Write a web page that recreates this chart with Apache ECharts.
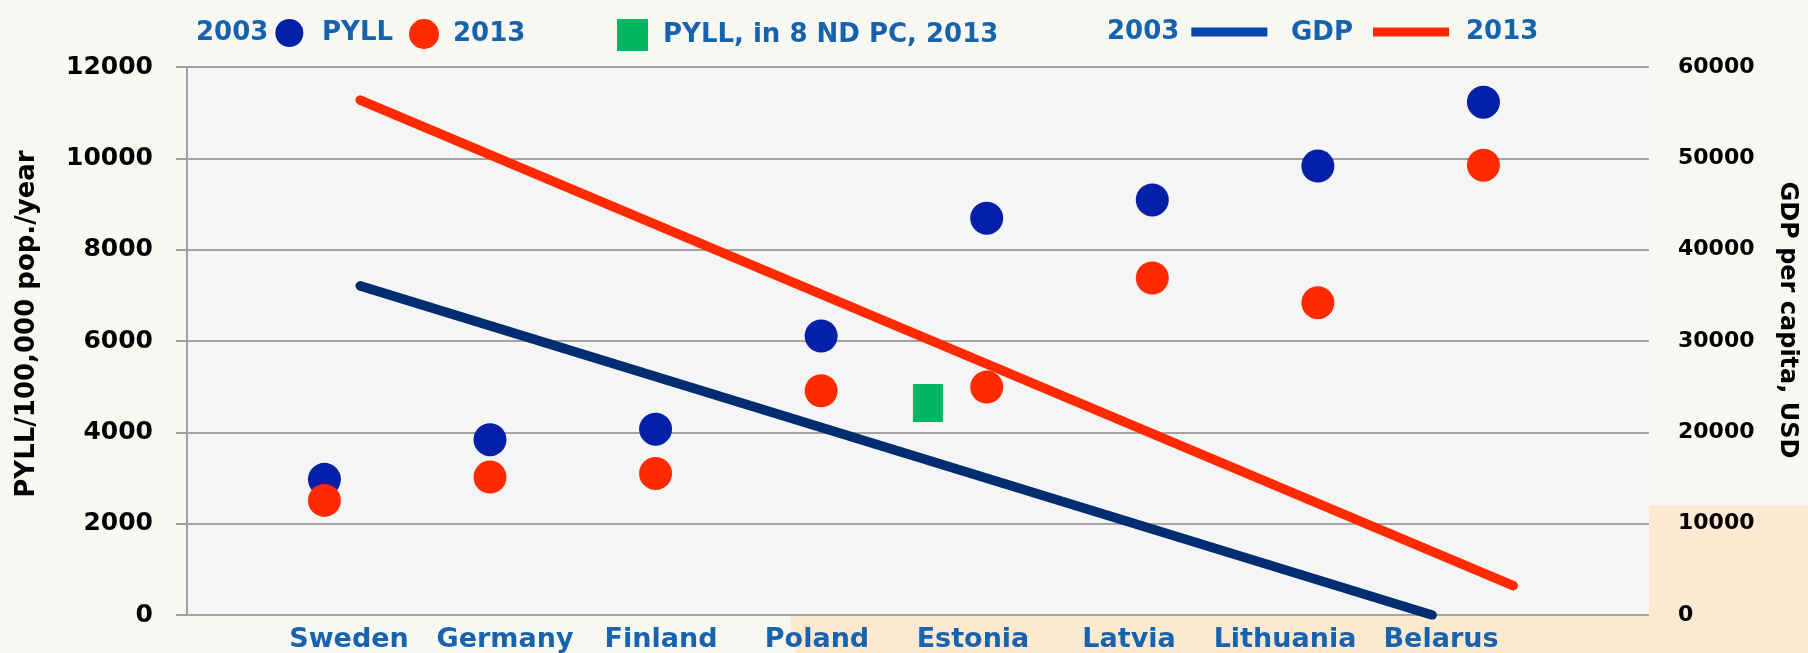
<!DOCTYPE html>
<html>
<head>
<meta charset="utf-8">
<script src="https://cdn.jsdelivr.net/npm/echarts@6/dist/echarts.min.js"></script>
<style>
  html, body { margin: 0; padding: 0; background: #f8f8f3; }
  #chart { width: 1808px; height: 653px; }
</style>
</head>
<body>
<div id="chart"></div>
<script>
// ---- data ----
const categories = ['Sweden', 'Germany', 'Finland', 'Poland', 'Estonia', 'Latvia', 'Lithuania', 'Belarus'];
const pyll2003 = [2970, 3840, 4070, 6110, 8690, 9090, 9830, 11230];
const pyll2013 = [2510, 3020, 3100, 4910, 4990, 7380, 6840, 9850];
// PYLL in 8 non-EU post-communist countries (single marker, between Poland and Estonia)
const pyllNdpc2013 = [[3.645, 4640]];
// GDP per capita trend lines (x = category position, y = USD)
const gdpTrend2003 = [[0.216, 36040], [6.69, 0]];
const gdpTrend2013 = [[0.216, 56380], [7.18, 3210]];
const leftTicks = { min: 0, max: 12000, interval: 2000 };
const rightTicks = { min: 0, max: 60000, interval: 10000 };

const FONT = 'DejaVu Sans';
const LEG_COLOR = '#1662ad';
const ellipse = 'path://M50,0 A50,50 0 1,1 50,100 A50,50 0 1,1 50,0 Z';

const chart = echarts.init(document.getElementById('chart'), null, { renderer: 'canvas' });

const legendText = { color: LEG_COLOR, fontFamily: FONT, fontWeight: 'bold', fontSize: 26 };
const plain = v => String(v);
const LT = 14;

const option = {
  backgroundColor: '#f8f8f3',
  animation: false,
  graphic: [
    { type: 'rect', z: -10, shape: { x: 790, y: 505, width: 1120, height: 220, r: 110 }, style: { fill: '#fbe9d2' } },
    { type: 'text', x: 322, y: 33, style: { text: 'PYLL', fill: LEG_COLOR, font: 'bold 26px "DejaVu Sans"', verticalAlign: 'middle' } },
    { type: 'text', x: 1291, y: 33, style: { text: 'GDP', fill: LEG_COLOR, font: 'bold 26px "DejaVu Sans"', verticalAlign: 'middle' } }
  ],
  legend: [
    { data: ['PYLL 2003'], left: 191, top: LT, align: 'right', icon: ellipse, itemWidth: 28, itemHeight: 31,
      formatter: () => '2003', textStyle: Object.assign({ padding: [0, 2, 0, 0] }, legendText) },
    { data: ['PYLL 2013'], left: 404, top: LT, align: 'left', icon: ellipse, itemWidth: 30, itemHeight: 31,
      formatter: () => '2013', textStyle: Object.assign({ padding: [0, 0, 0, 9] }, legendText) },
    { data: ['PYLL, in 8 ND PC, 2013'], left: 612, top: LT, align: 'left', icon: 'rect', itemWidth: 31, itemHeight: 32,
      textStyle: Object.assign({ padding: [0, 0, 0, 10] }, legendText) },
    { data: [{ name: 'GDP 2003', itemStyle: { color: '#0047ab' } }], left: 1102, top: LT, align: 'right', icon: 'rect',
      itemWidth: 76, itemHeight: 9, formatter: () => '2003', textStyle: Object.assign({ padding: [0, 7, 0, 0] }, legendText) },
    { data: [{ name: 'GDP 2013', itemStyle: { color: '#ff2a00' } }], left: 1368, top: LT, align: 'left', icon: 'rect',
      itemWidth: 76, itemHeight: 9, formatter: () => '2013', textStyle: Object.assign({ padding: [0, 0, 0, 12] }, legendText) }
  ],
  grid: [
    { left: 187, right: 159, top: 67, bottom: 38, show: true, backgroundColor: '#f5f5f5', borderWidth: 0 },
    { left: 271, right: 289, top: 67, bottom: 38, show: false }
  ],
  xAxis: [
    { type: 'value', gridIndex: 0, min: -0.83, max: 8.0, show: false },
    { type: 'category', gridIndex: 1, data: categories, boundaryGap: true,
      axisLine: { show: false }, axisTick: { show: false }, splitLine: { show: false },
      axisLabel: { color: '#1763ae', fontFamily: FONT, fontWeight: 'bold', fontSize: 27, margin: 13, interval: 0 } }
  ],
  yAxis: [
    { type: 'value', gridIndex: 0, position: 'left', min: leftTicks.min, max: leftTicks.max, interval: leftTicks.interval,
      name: 'PYLL/100,000 pop./year', nameLocation: 'middle', nameRotate: 90, nameGap: 147,
      nameTextStyle: { color: '#000', fontFamily: FONT, fontWeight: 'bold', fontSize: 26, padding: [0, 0, 0, 34] },
      axisLine: { show: true, onZero: false, lineStyle: { color: '#a0a0a0', width: 2 } },
      axisTick: { show: true, inside: false, length: 11, lineStyle: { color: '#a0a0a0', width: 2 } },
      splitLine: { show: true, lineStyle: { color: '#a3a3a3', width: 2 } },
      axisLabel: { color: '#000', fontFamily: FONT, fontWeight: 'bold', fontSize: 25, margin: 34, formatter: plain } },
    { type: 'value', gridIndex: 0, position: 'right', min: rightTicks.min, max: rightTicks.max, interval: rightTicks.interval,
      name: 'GDP per capita, USD', nameLocation: 'middle', nameRotate: -90, nameGap: 126,
      nameTextStyle: { color: '#000', fontFamily: FONT, fontWeight: 'bold', fontSize: 24, padding: [0, 42, 0, 0] },
      axisLine: { show: false, onZero: false }, axisTick: { show: false }, splitLine: { show: false },
      axisLabel: { color: '#000', fontFamily: FONT, fontWeight: 'bold', fontSize: 22, margin: 29, formatter: plain } },
    { type: 'value', gridIndex: 1, show: false, min: 0, max: 1 }
  ],
  series: [
    { name: 'GDP 2003', type: 'line', xAxisIndex: 0, yAxisIndex: 1, data: gdpTrend2003, showSymbol: false, symbol: 'none',
      clip: true, color: '#002d72', lineStyle: { color: '#002d72', width: 9.5, cap: 'round' }, z: 2 },
    { name: 'GDP 2013', type: 'line', xAxisIndex: 0, yAxisIndex: 1, data: gdpTrend2013, showSymbol: false, symbol: 'none',
      clip: true, color: '#ff2a00', lineStyle: { color: '#ff2a00', width: 9.5, cap: 'round' }, z: 2 },
    { name: 'PYLL 2003', type: 'scatter', xAxisIndex: 0, yAxisIndex: 0, symbolSize: 33,
      data: categories.map((c, i) => [i, pyll2003[i]]), itemStyle: { color: '#0420a8', opacity: 1 }, z: 3 },
    { name: 'PYLL 2013', type: 'scatter', xAxisIndex: 0, yAxisIndex: 0, symbolSize: 33,
      data: categories.map((c, i) => [i, pyll2013[i]]), itemStyle: { color: '#ff2a00', opacity: 1 }, z: 4 },
    { name: 'PYLL, in 8 ND PC, 2013', type: 'scatter', xAxisIndex: 0, yAxisIndex: 0, symbol: 'rect', symbolSize: [30, 38],
      data: pyllNdpc2013, itemStyle: { color: '#00b862', opacity: 1 }, z: 4 }
  ]
};
chart.setOption(option);
</script>
</body>
</html>
